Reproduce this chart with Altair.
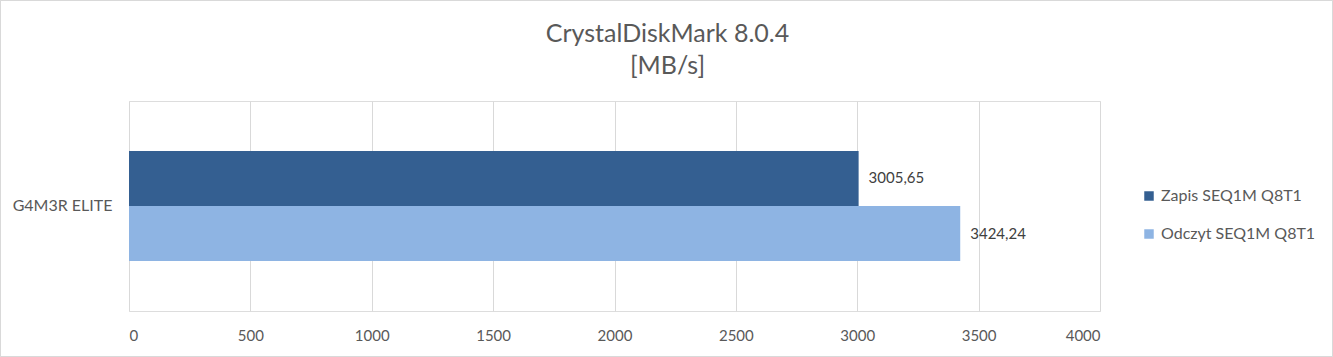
import altair as alt
import pandas as pd

categories = ["G4M3R ELITE", "G4M3R ELITE"]
series = ["Zapis SEQ1M Q8T1", "Odczyt SEQ1M Q8T1"]
values = [3005.65, 3424.24]
labels = ["3005,65", "3424,24"]
colors = ["#345f91", "#8eb4e3"]

df = pd.DataFrame({"cat": categories, "series": series, "value": values, "label": labels})

W, H = 971, 210
PL, PT = 129, 101
font = "Lato"
grey = "#595959"

base = alt.Chart(df)

bars = base.mark_bar().encode(
    x=alt.X("value:Q", scale=alt.Scale(domain=[0, 4000]),
            axis=alt.Axis(values=list(range(0, 4001, 500)), format="d", grid=True, gridColor="#d9d9d9",
                          ticks=False, domain=False, labelPadding=17, title=None,
                          labelFontSize=15, labelColor=grey, labelFont=font)),
    y=alt.Y("cat:N", scale=alt.Scale(paddingInner=0, paddingOuter=0.4545),
            axis=alt.Axis(title=None, ticks=False, domain=False, labelPadding=17,
                          labelFontSize=16, labelColor=grey, labelFont=font)),
    yOffset=alt.YOffset("series:N", sort=series),
    color=alt.Color("series:N", sort=series,
                    scale=alt.Scale(domain=series, range=colors),
                    legend=alt.Legend(title=None, orient="none", legendX=1012, legendY=87,
                                      symbolType="square", symbolSize=90, symbolStrokeWidth=0,
                                      labelFontSize=16, labelColor=grey, labelFont=font,
                                      rowPadding=22, symbolOffset=0)),
)

text = base.mark_text(align="left", baseline="middle", dx=10, fontSize=15, color="#404040", font=font).encode(
    x="value:Q",
    y="cat:N",
    yOffset=alt.YOffset("series:N", sort=series),
    text="label:N",
)

border = base.mark_rect(fill=None, stroke="#d9d9d9", strokeWidth=1).encode(
    x=alt.value(-PL + 0.5), x2=alt.value(1332.5 - PL),
    y=alt.value(-PT + 0.5), y2=alt.value(356.5 - PT),
)

chart = alt.layer(bars, text, border).properties(
    width=W, height=H,
    padding={"left": PL, "top": PT, "right": 1333 - PL - W, "bottom": 357 - PT - H},
    autosize=alt.AutoSizeParams(type="none"),
    title=alt.TitleParams(["CrystalDiskMark 8.0.4", "[MB/s]"], fontSize=25, font=font,
                          fontWeight="normal", color=grey, anchor="middle", dx=53,
                          lineHeight=32, offset=-79, frame="group"),
).configure_view(stroke=None).configure(background="white")

chart.save("out.html", embed_options={"renderer": "svg", "actions": False})
